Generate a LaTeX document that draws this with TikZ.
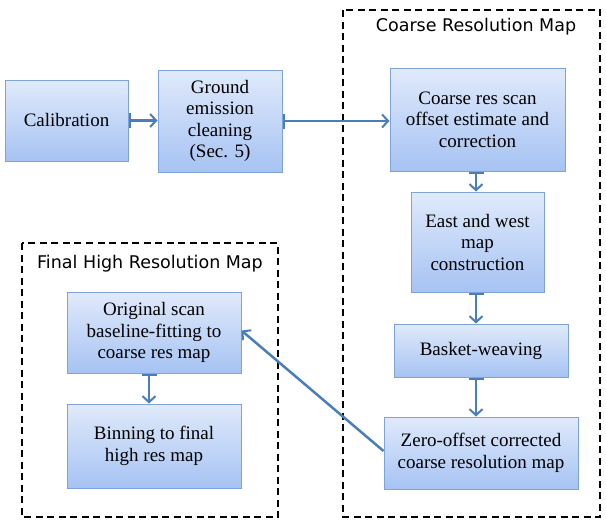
\documentclass[tikz,border=0pt]{standalone}
\usepackage{fontspec}
\setmainfont{Liberation Serif}
\newfontfamily\titlefont{DejaVu Sans}
\usetikzlibrary{arrows.meta}
\definecolor{boxline}{HTML}{7EA3D8}
\definecolor{boxtop}{HTML}{E0EAFB}
\definecolor{boxbot}{HTML}{A6C3F3}
\definecolor{flow}{HTML}{4A7EBB}
\tikzset{
  stepbox/.style={draw=boxline, line width=1pt, top color=boxtop, bottom color=boxbot, align=center,
    inner sep=0pt, font=\fontsize{19}{21.5}\selectfont},
  flowarrow/.style={draw=flow, line width=2.5pt, {Bar[width=15pt,line width=2pt]}-{Straight Barb[length=6pt,width=13pt,line width=2pt]}},
  groupbox/.style={draw, line width=2pt, dash pattern=on 7pt off 4.5pt},
  grouplabel/.style={font=\titlefont\fontsize{17.5}{20}\selectfont, anchor=base}
}
\begin{document}
\begin{tikzpicture}[x=1pt,y=-1pt]
    \useasboundingbox (0,0) rectangle (606,522);
    \draw[groupbox] (343,10) rectangle (600,517);
    \node[grouplabel] (coarselbl) at (476,31) {Coarse Resolution Map};
    \draw[groupbox] (22,243) rectangle (278,517);
    \node[grouplabel] (finallbl) at (150,268) {Final High Resolution Map};

    \node[stepbox, minimum width=123pt, minimum height=81pt] (calib) at (66.5,120.5) {Calibration};
    \node[stepbox, minimum width=124pt, minimum height=102pt] (ground) at (220,121) {Ground\\emission\\cleaning\\(Sec. 5)};
    \node[stepbox, minimum width=175pt, minimum height=103pt] (coarse) at (477.5,119.5) {Coarse res scan\\offset estimate and\\correction};
    \node[stepbox, minimum width=133pt, minimum height=100pt] (eastwest) at (477.5,242) {East and west\\map\\construction};
    \node[stepbox, minimum width=174pt, minimum height=53pt] (basket) at (481,350.5) {Basket-weaving};
    \node[stepbox, minimum width=194pt, minimum height=72pt] (zero) at (481,453) {Zero-offset corrected\\coarse resolution map};
    \node[stepbox, minimum width=174pt, minimum height=81pt] (orig) at (154,332.5) {Original scan\\baseline-fitting to\\coarse res map};
    \node[stepbox, minimum width=174pt, minimum height=84pt] (binning) at (154,446) {Binning to final\\high res map};

    \draw[flowarrow] (calib.east) -- (ground.west |- calib.east);
    \draw[flowarrow] (ground.east) -- (coarse.west |- ground.east);
    \draw[flowarrow] ([xshift=-1.5pt]coarse.south) -- ([xshift=-1.5pt]coarse.south |- eastwest.north);
    \draw[flowarrow] ([xshift=-1.5pt]eastwest.south) -- ([xshift=-1.5pt]eastwest.south |- basket.north);
    \draw[flowarrow] ([xshift=-1.5pt]eastwest.south |- basket.south) -- ([xshift=-1.5pt]eastwest.south |- zero.north);
    \draw[flowarrow, -{Straight Barb[length=6pt,width=13pt,line width=2pt]}] ([yshift=2pt]zero.west) -- ([yshift=2pt]orig.east);
    \draw[flowarrow] ([xshift=-5pt]orig.south) -- ([xshift=-5pt]orig.south |- binning.north);
\end{tikzpicture}
\end{document}
